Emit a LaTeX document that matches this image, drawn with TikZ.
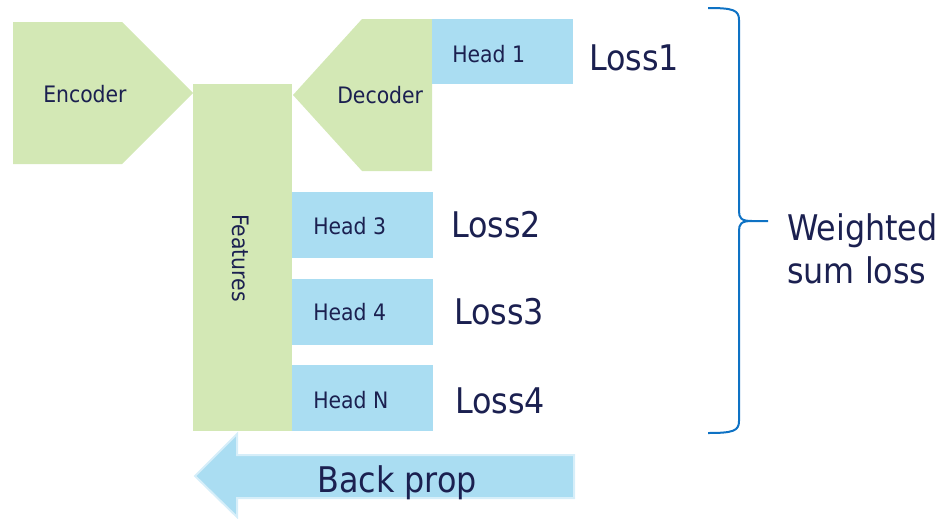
\documentclass[tikz,border=0pt]{standalone}
\usepackage{fontspec}
\setmainfont{DejaVu Sans Condensed}
\definecolor{featgreen}{HTML}{D3E8B5}
\definecolor{headblue}{HTML}{AADDF2}
\definecolor{txtnavy}{HTML}{1B2050}
\definecolor{bracecol}{HTML}{0E72C4}
\definecolor{arrowedge}{HTML}{D6EEF9}

\begin{document}
\begin{tikzpicture}[x=0.75pt,y=-0.75pt,
    small/.style={text=txtnavy,font=\fontsize{17}{20}\selectfont,inner sep=0pt,anchor=base west},
    big/.style={text=txtnavy,font=\fontsize{26.5}{32.25}\selectfont,inner sep=0pt,anchor=base west}]
    \useasboundingbox (0,0) rectangle (948,518);
    \fill[featgreen] (13,22) -- (122,22) -- (193,93) -- (122,164) -- (13,164) -- cycle;
    \fill[featgreen] (193,84) rectangle (292,431);
    \fill[featgreen] (293,95) -- (362,19) -- (432,19) -- (432,171) -- (362,171) -- cycle;
    \fill[headblue] (432,19) rectangle (573,84);
    \fill[headblue] (292,192) rectangle (433,258);
    \fill[headblue] (292,279) rectangle (433,345);
    \fill[headblue] (292,365) rectangle (433,431);
    \draw[fill=headblue,draw=arrowedge,line width=1.5pt] (195,476) -- (237,434) -- (237,455) -- (574,455) -- (574,498) -- (237,498) -- (237,517) -- cycle;
    \draw[bracecol,line width=1.5pt] (708,8) .. controls (733,8) and (739,10) .. (739,20) -- (739,211)
        .. controls (739,218) and (741,221) .. (752,221) -- (768,221)
        (752,221) .. controls (741,221) and (739,224) .. (739,231) -- (739,421)
        .. controls (739,431) and (733,433) .. (708,433);
    \node[small] (enc) at (43,102) {Encoder};
    \node[small] (dec) at (337,103) {Decoder};
    \node[small,anchor=center,rotate=-90] (feat) at (241,258) {Features};
    \node[small] (h1) at (452,62) {Head 1};
    \node[small] (h3) at (313,234) {Head 3};
    \node[small] (h4) at (313,320) {Head 4};
    \node[small] (hn) at (313,408) {Head N};
    \node[big] (l1) at (589,70) {Loss1};
    \node[big] (l2) at (451,237) {Loss2};
    \node[big] (l3) at (454,324) {Loss3};
    \node[big] (l4) at (455,413) {Loss4};
    \node[big,align=left] (wsum) at (787,283) {Weighted\\sum loss};
    \node[big] (bp) at (317,492) {Back prop};
\end{tikzpicture}
\end{document}
